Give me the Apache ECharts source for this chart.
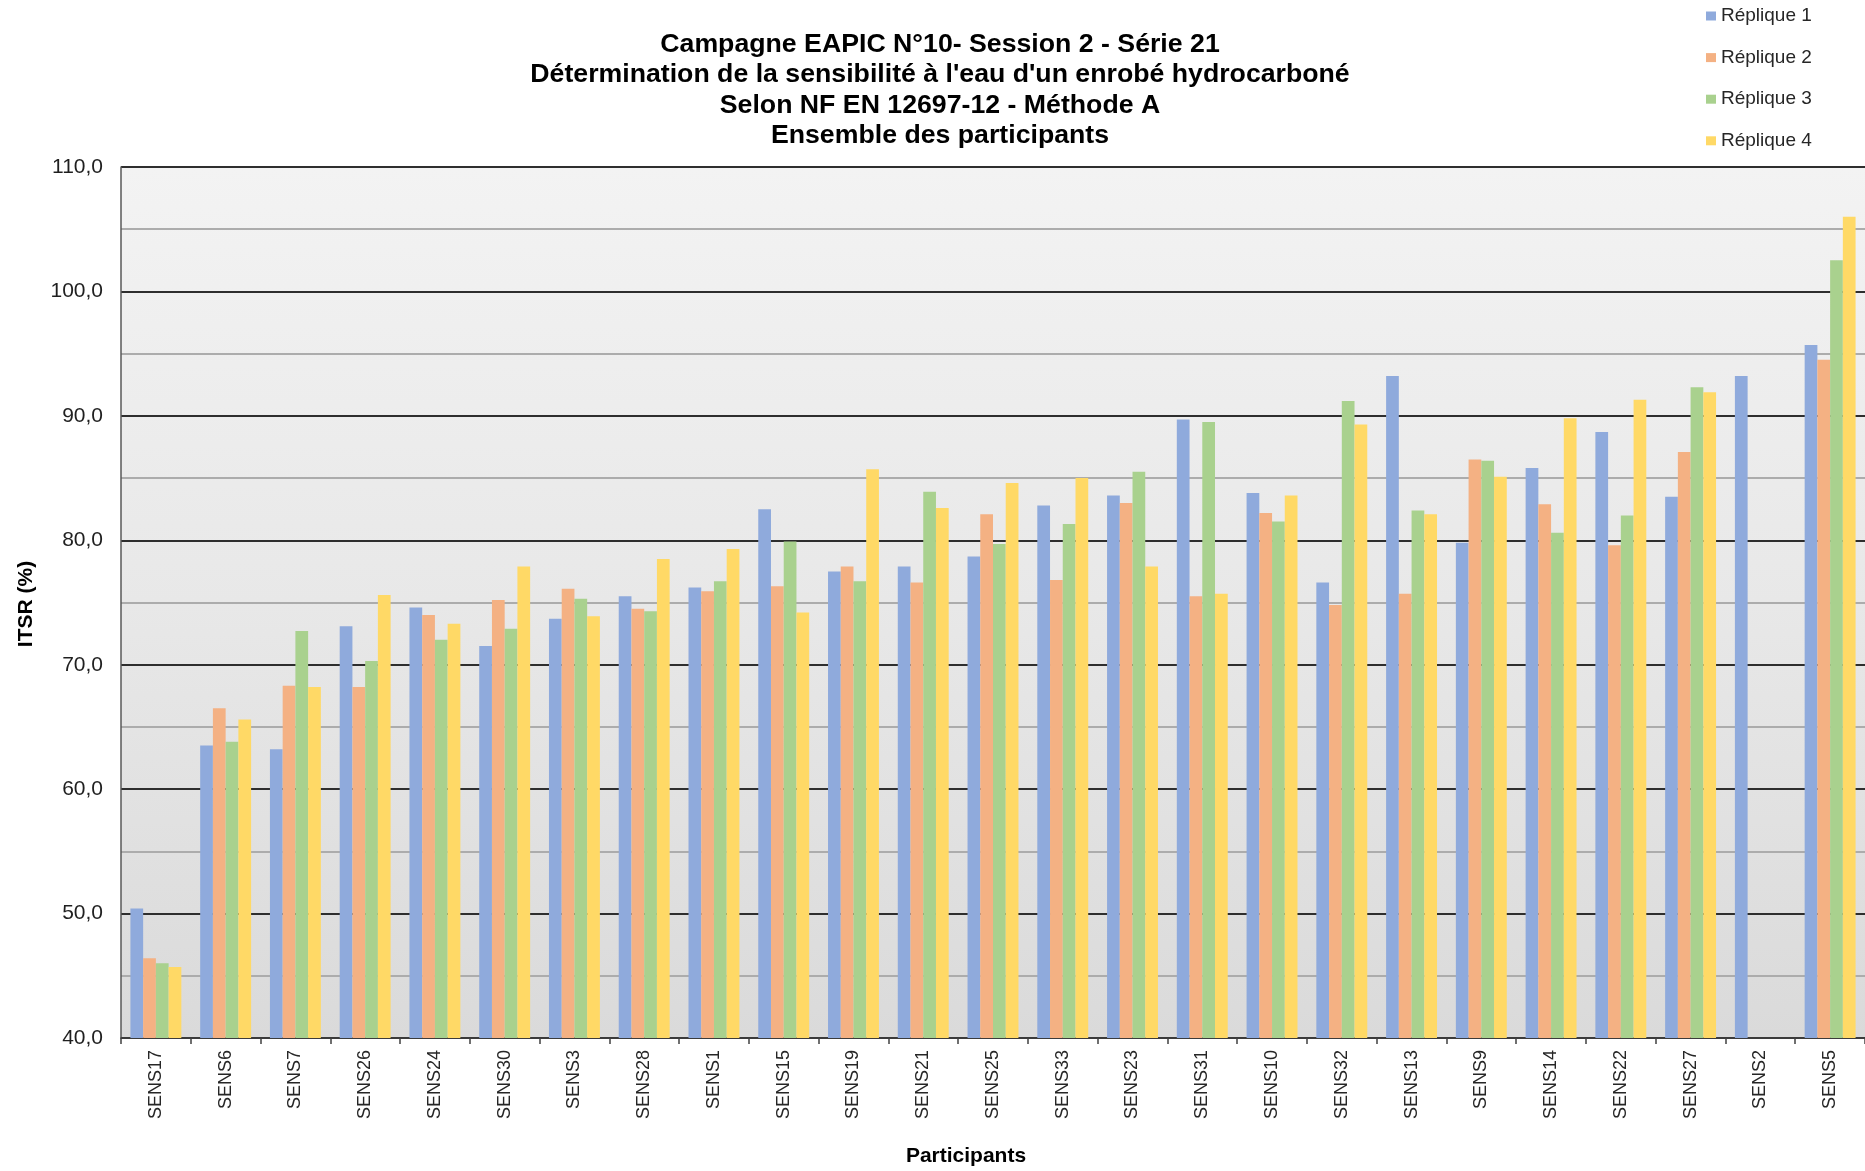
<!DOCTYPE html>
<html>
<head>
<meta charset="utf-8">
<title>ITSR - Série 21</title>
<script src="https://cdn.jsdelivr.net/npm/echarts@6/dist/echarts.min.js"></script>
<style>
  html, body { margin: 0; padding: 0; background: #ffffff; }
  #chart { width: 1865px; height: 1171px; }
</style>
</head>
<body>
<div id="chart"></div>
<script>
// Participants, ordered as in the report
const participants = ['SENS17','SENS6','SENS7','SENS26','SENS24','SENS30','SENS3','SENS28','SENS1','SENS15','SENS19','SENS21','SENS25','SENS33','SENS23','SENS31','SENS10','SENS32','SENS13','SENS9','SENS14','SENS22','SENS27','SENS2','SENS5'];

// ITSR (%) per replicate
const replique1 = [50.4, 63.5, 63.2, 73.1, 74.6, 71.5, 73.7, 75.5, 76.2, 82.5, 77.5, 77.9, 78.7, 82.8, 83.6, 89.7, 83.8, 76.6, 93.2, 79.8, 85.8, 88.7, 83.5, 93.2, 95.7];
const replique2 = [46.4, 66.5, 68.3, 68.2, 74.0, 75.2, 76.1, 74.5, 75.9, 76.3, 77.9, 76.6, 82.1, 76.8, 83.0, 75.5, 82.2, 74.8, 75.7, 86.5, 82.9, 79.6, 87.1, null, 94.5];
const replique3 = [46.0, 63.8, 72.7, 70.3, 72.0, 72.9, 75.3, 74.3, 76.7, 79.9, 76.7, 83.9, 79.7, 81.3, 85.5, 89.5, 81.5, 91.2, 82.4, 86.4, 80.6, 82.0, 92.3, null, 102.5];
const replique4 = [45.7, 65.6, 68.2, 75.6, 73.3, 77.9, 73.9, 78.5, 79.3, 74.2, 85.7, 82.6, 84.6, 85.0, 77.9, 75.7, 83.6, 89.3, 82.1, 85.1, 89.8, 91.3, 91.9, null, 106.0];

const seriesNames = ['Réplique 1', 'Réplique 2', 'Réplique 3', 'Réplique 4'];
const seriesColors = ['#8faadc', '#f4b183', '#a9d18e', '#ffd966'];
const seriesValues = [replique1, replique2, replique3, replique4];

const titleLines = [
  'Campagne EAPIC N°10- Session 2 - Série 21',
  "Détermination de la sensibilité à l'eau d'un enrobé hydrocarboné",
  'Selon NF EN 12697-12 - Méthode A',
  'Ensemble des participants'
];

const FONT = '"Liberation Sans", Arial, sans-serif';

const chart = echarts.init(document.getElementById('chart'), null, { renderer: 'canvas' });

const option = {
  backgroundColor: '#ffffff',
  animation: false,
  textStyle: { fontFamily: FONT },
  title: {
    text: titleLines.join('\n'),
    left: 940,
    top: 29,
    padding: 0,
    textAlign: 'center',
    textStyle: {
      fontFamily: FONT,
      fontSize: 26.7,
      fontWeight: 'bold',
      lineHeight: 30.5,
      color: '#000000'
    }
  },
  legend: {
    orient: 'vertical',
    left: 1706,
    top: 6,
    padding: 0,
    itemWidth: 10,
    itemHeight: 9,
    itemGap: 21.6,
    icon: 'rect',
    textStyle: { fontFamily: FONT, fontSize: 19, lineHeight: 20, color: '#262626' },
    data: seriesNames
  },
  grid: {
    left: 121,
    right: 0,
    top: 167,
    bottom: 133,
    show: true,
    borderWidth: 0,
    backgroundColor: {
      type: 'linear', x: 0, y: 0, x2: 0, y2: 1,
      colorStops: [
        { offset: 0, color: '#f3f3f3' },
        { offset: 0.5, color: '#e8e8e8' },
        { offset: 1, color: '#dadada' }
      ]
    }
  },
  xAxis: {
    type: 'category',
    data: participants,
    axisLine: { show: true, lineStyle: { color: '#404040', width: 1.5 } },
    axisTick: { show: true, length: 6, lineStyle: { color: '#404040', width: 1.5 } },
    axisLabel: {
      rotate: 90,
      margin: 12,
      fontFamily: FONT,
      fontSize: 18,
      color: '#262626',
      interval: 0
    },
    splitLine: { show: false }
  },
  yAxis: {
    type: 'value',
    min: 40,
    max: 110,
    interval: 10,
    axisLine: { show: true, lineStyle: { color: '#595959', width: 1.5 } },
    axisTick: { show: false },
    axisLabel: {
      margin: 18,
      fontFamily: FONT,
      fontSize: 21,
      color: '#1f1f1f',
      formatter: v => v.toFixed(1).replace('.', ',')
    },
    splitLine: { show: true, lineStyle: { color: '#2e2e2e', width: 2 } },
    minorTick: { show: false, splitNumber: 2 },
    minorSplitLine: { show: true, lineStyle: { color: '#acacac', width: 2 } }
  },
  graphic: [
    {
      type: 'text',
      x: 26,
      y: 604,
      rotation: Math.PI / 2,
      style: {
        text: 'ITSR (%)',
        fontFamily: FONT,
        fontSize: 21,
        fontWeight: 'bold',
        fill: '#000000',
        align: 'center',
        verticalAlign: 'middle'
      }
    },
    {
      type: 'text',
      x: 966,
      y: 1156,
      style: {
        text: 'Participants',
        fontFamily: FONT,
        fontSize: 21,
        fontWeight: 'bold',
        fill: '#000000',
        align: 'center',
        verticalAlign: 'middle'
      }
    }
  ],
  series: seriesNames.map((name, i) => ({
    name: name,
    type: 'bar',
    data: seriesValues[i],
    barGap: '0%',
    barCategoryGap: '27%',
    clip: true,
    itemStyle: { color: seriesColors[i] }
  }))
};

chart.setOption(option);
</script>
</body>
</html>
